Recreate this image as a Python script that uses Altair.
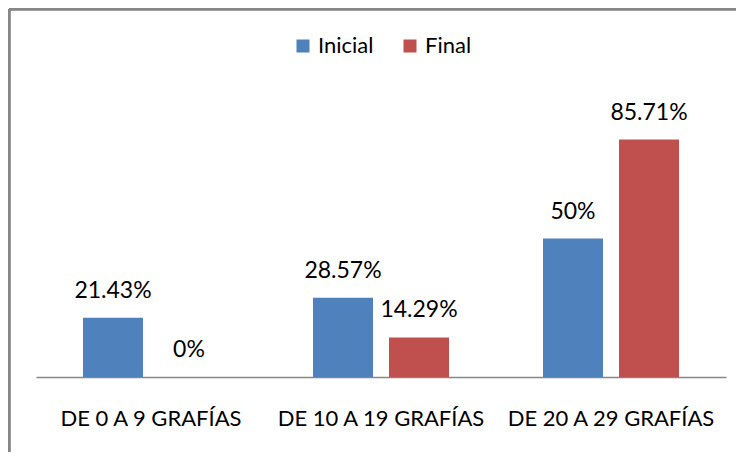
import altair as alt
import pandas as pd

categories = ["DE 0 A 9 GRAFÍAS", "DE 10 A 19 GRAFÍAS", "DE 20 A 29 GRAFÍAS"]
series = ["Inicial", "Final"]
inicial = [21.43, 28.57, 50]
final = [0, 14.29, 85.71]
labels_inicial = ["21.43%", "28.57%", "50%"]
labels_final = ["0%", "14.29%", "85.71%"]
colors = ["#4F81BD", "#C0504D"]

rows = []
for c, v, l in zip(categories, inicial, labels_inicial):
    rows.append({"cat": c, "serie": "Inicial", "val": v, "lab": l})
for c, v, l in zip(categories, final, labels_final):
    rows.append({"cat": c, "serie": "Final", "val": v, "lab": l})
df = pd.DataFrame(rows)

FONT = "Lato"

x = alt.X("cat:N", sort=categories, title=None,
          scale=alt.Scale(paddingInner=0, paddingOuter=0),
          axis=alt.Axis(labelAngle=0, ticks=False, domainColor="#868686", domainWidth=1.5,
                        labelFontSize=22, labelFont=FONT, labelColor="#000000",
                        labelLimit=0, labelOverlap=False,
                        labelBaseline="alphabetic", labelPadding=48, grid=False))
xoff = alt.XOffset("serie:N", sort=series,
                   scale=alt.Scale(paddingInner=0.2105, paddingOuter=0.618))
y = alt.Y("val:Q", scale=alt.Scale(domain=[0, 100]), axis=None)

bars = alt.Chart(df).mark_bar().encode(
    x=x, xOffset=xoff, y=y,
    color=alt.Color("serie:N", sort=series,
                    scale=alt.Scale(domain=series, range=colors),
                    legend=alt.Legend(title=None, orient="none", direction="horizontal",
                                      legendX=256, legendY=-65, symbolType="square",
                                      symbolSize=169, symbolStrokeWidth=0,
                                      labelFontSize=22, labelFont=FONT, labelColor="#000000",
                                      columnPadding=25, labelOffset=4, padding=0)),
)

text = alt.Chart(df).mark_text(baseline="alphabetic", dy=-20, fontSize=23, font=FONT,
                               color="#000000").encode(
    x=x, xOffset=xoff, y=y, text="lab:N")

border_left = alt.Chart(df).mark_rule(color="#868686", strokeWidth=2.5).encode(
    x=alt.value(-27), y=alt.value(-91), y2=alt.value(400))
border_top = alt.Chart(df).mark_rule(color="#868686", strokeWidth=2.5).encode(
    x=alt.value(-27), x2=alt.value(720), y=alt.value(-91))

chart = alt.layer(bars, text, border_left, border_top).properties(
    width=690, height=277,
    autosize=alt.AutoSizeParams(type="none"),
    padding={"left": 28, "top": 92, "right": 10, "bottom": 75},
).configure_view(stroke=None)

chart.save("out.html", embed_options={"renderer": "svg", "actions": False})
